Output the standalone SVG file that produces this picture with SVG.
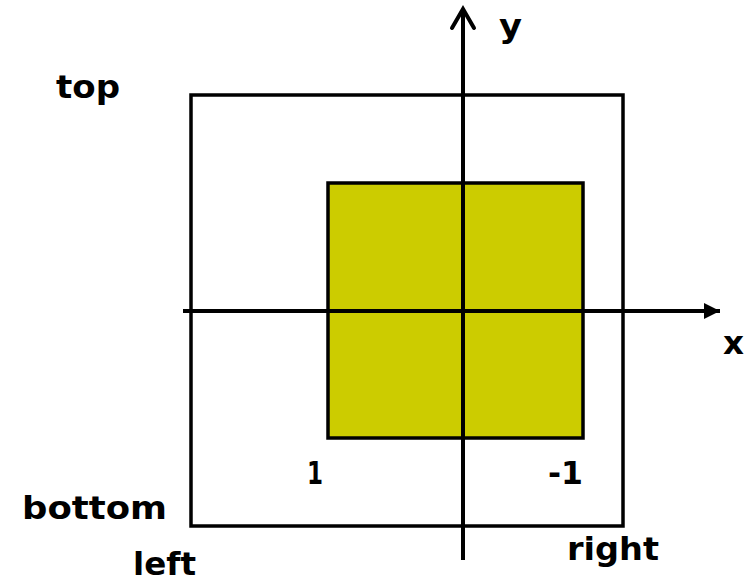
<svg xmlns="http://www.w3.org/2000/svg" width="748" height="583" viewBox="0 0 748 583">
<style>
.t{font-family:"DejaVu Sans","Verdana",sans-serif;font-weight:bold;font-size:32px;fill:#000}
.s{fill:none;stroke:#000;stroke-width:3.5}
.a{fill:none;stroke:#000;stroke-width:4}
</style>
<defs>
<marker id="fa" viewBox="0 0 16 16" refX="16" refY="8" markerWidth="16" markerHeight="16" markerUnits="userSpaceOnUse" orient="auto">
<path d="M0,0 L16,8 L0,16 Z" fill="#000"/>
</marker>
</defs>
<rect width="748" height="583" fill="#fff"/>
<g id="outer"><rect class="s" x="191" y="95" width="432" height="431"/></g>
<g id="inner"><rect x="328" y="183" width="255" height="255" fill="#CCCC00" stroke="#000" stroke-width="3.5"/></g>
<g id="axes">
<line class="a" x1="183" y1="311" x2="720" y2="311" marker-end="url(#fa)"/>
<line class="a" x1="463" y1="560" x2="463" y2="9"/>
<polyline class="a" points="452,28 463,9 474,28" stroke-linecap="round" stroke-linejoin="miter"/>
</g>
<g id="labels">
<text class="t" x="499" y="37" textLength="23" lengthAdjust="spacingAndGlyphs">y</text>
<text class="t" x="56" y="98" textLength="64" lengthAdjust="spacingAndGlyphs">top</text>
<text class="t" x="723" y="354" textLength="21" lengthAdjust="spacingAndGlyphs">x</text>
<text class="t" x="307" y="484" textLength="16" lengthAdjust="spacingAndGlyphs">1</text>
<text class="t" x="548" y="484" textLength="35" lengthAdjust="spacingAndGlyphs">-1</text>
<text class="t" x="22" y="519" textLength="145" lengthAdjust="spacingAndGlyphs">bottom</text>
<text class="t" x="133" y="575" textLength="63" lengthAdjust="spacingAndGlyphs">left</text>
<text class="t" x="567" y="560" textLength="92" lengthAdjust="spacingAndGlyphs">right</text>
</g>
</svg>
